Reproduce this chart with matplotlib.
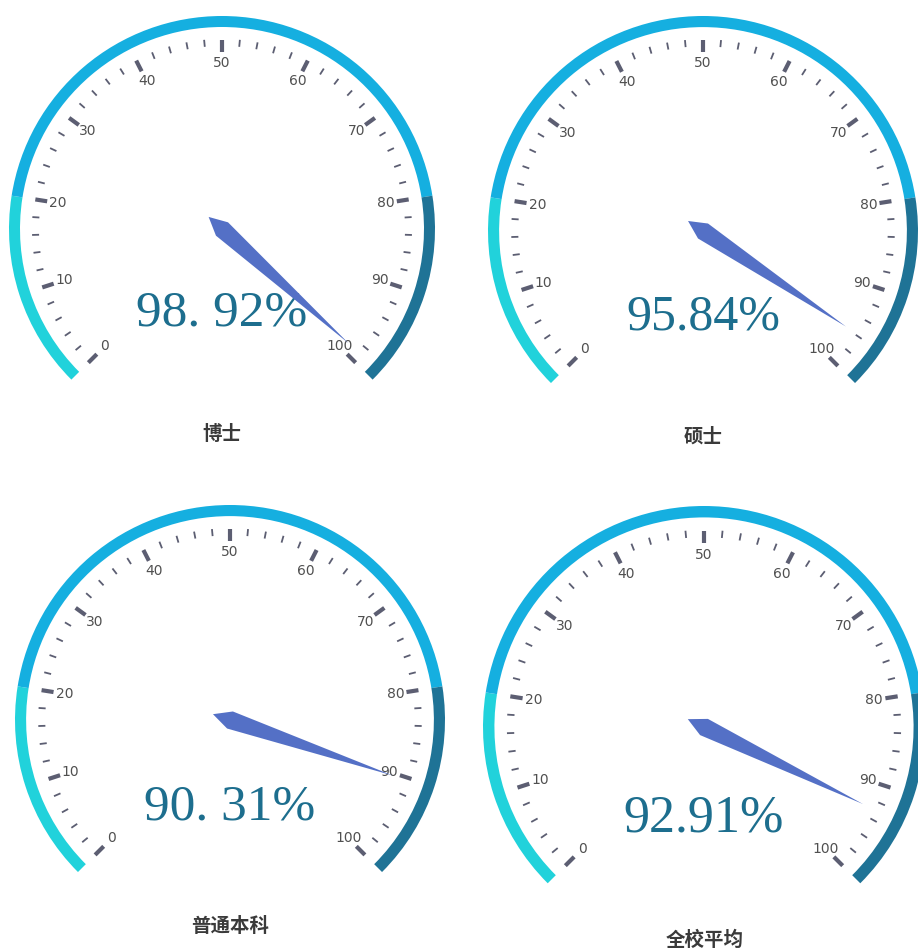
import numpy as np
import matplotlib.pyplot as plt
from matplotlib.patches import Wedge, Polygon

# 四个仪表盘的数据
names = ['博士', '硕士', '普通本科', '全校平均']
rates = [98.92, 95.84, 90.31, 92.91]
rate_texts = ['98. 92%', '95.84%', '90. 31%', '92.91%']
tick_values = list(range(0, 101, 10))
minor_values = [v for v in range(0, 101, 2) if v % 10 != 0]

# 版面 (像素, y 向下)
centers = [(222, 229), (703, 231), (230, 720), (704, 727)]
radii = [213, 215, 215, 221]
text_y = [313, 317, 807, 818]
text_size = [37, 36, 37, 37.5]
title_pos = [(222, 434), (703, 437), (230, 927), (705, 940)]

W, H = 918, 952
fig = plt.figure(figsize=(W / 100, H / 100), dpi=100)
ax = fig.add_axes([0, 0, 1, 1])
ax.set_xlim(0, W)
ax.set_ylim(H, 0)
ax.set_aspect('equal')
ax.axis('off')


def ang(v):
    return np.radians(225 - 2.7 * v)


def pt(cx, cy, r, a):
    return cx + r * np.cos(a), cy - r * np.sin(a)


segs = [(0, 20, '#21d2db'), (20, 80, '#15afe0'), (80, 100, '#1f7396')]

for i in range(4):
    cx, cy = centers[i]
    R = radii[i]
    s = R / 213.0

    # 外圈色带
    for v0, v1, col in segs:
        a1 = 225 - 2.7 * v0
        a2 = 225 - 2.7 * v1
        ax.add_patch(Wedge((cx, cy), R, -a1, -a2, width=11 * s, color=col, lw=0))

    # 刻度
    for v in tick_values:
        a = ang(v)
        x0, y0 = pt(cx, cy, 177 * s, a)
        x1, y1 = pt(cx, cy, 189 * s, a)
        ax.plot([x0, x1], [y0, y1], color='#5c5e72', lw=3, solid_capstyle='butt')
        lx, ly = pt(cx, cy, 166 * s, a)
        ax.text(lx, ly, str(v), ha='center', va='center', fontsize=10,
                color='#505050', family='DejaVu Sans')
    for v in minor_values:
        a = ang(v)
        x0, y0 = pt(cx, cy, 183 * s, a)
        x1, y1 = pt(cx, cy, 190 * s, a)
        ax.plot([x0, x1], [y0, y1], color='#5c5e72', lw=1.3, solid_capstyle='butt')

    # 指针
    a = ang(rates[i])
    d = np.array([np.cos(a), -np.sin(a)])
    n = np.array([np.sin(a), np.cos(a)])
    c = np.array([cx, cy])
    L = 0.8 * R
    poly = [c - 18 * d, c + 9 * n, c + L * d, c - 9 * n]
    ax.add_patch(Polygon(poly, closed=True, color='#5470c6', lw=0, zorder=3))

    # 数值
    ax.text(cx, text_y[i], rate_texts[i], ha='center', va='center',
            fontsize=text_size[i], color='#1d6e8e', family='Liberation Serif', zorder=2)

    # 标题
    tx, ty = title_pos[i]
    ax.text(tx, ty, names[i], ha='center', va='center', fontsize=14,
            fontweight='bold', color='#3a3a3a', family=['Noto Sans CJK SC', 'DejaVu Sans'])

fig.savefig('out.png', dpi=100, facecolor='white')
